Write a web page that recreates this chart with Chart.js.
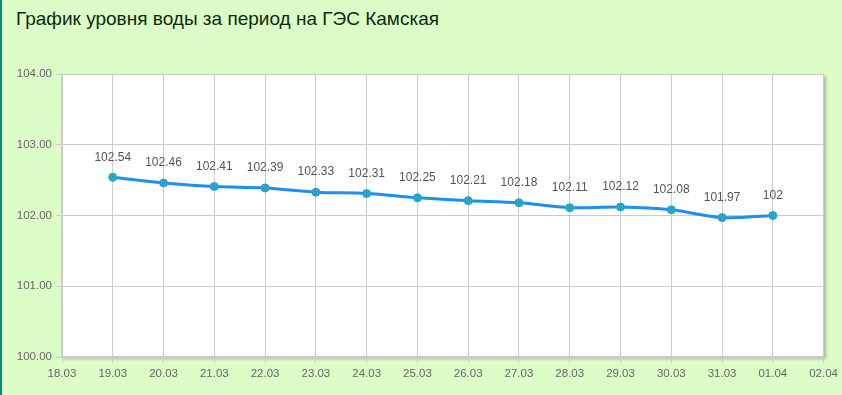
<!DOCTYPE html>
<html>
<head>
<meta charset="utf-8">
<script src="https://cdn.jsdelivr.net/npm/chart.js@4/dist/chart.umd.min.js"></script>
<style>
html,body{margin:0;padding:0;}
body{width:842px;height:395px;background:#dcfcc8;position:relative;overflow:hidden;}
#lb{position:absolute;left:0;top:0;width:2px;height:395px;background:#0b8a72;}
#title{position:absolute;left:16px;top:8px;font-family:"Liberation Sans",Arial,sans-serif;font-size:19px;color:#0d2a0d;white-space:nowrap;}
#c{position:absolute;left:0;top:0;}
</style>
</head>
<body>
<div id="lb"></div>
<div id="title">График уровня воды за период на ГЭС Камская</div>
<canvas id="c" width="842" height="395"></canvas>
<script>
const tickLabels = ["18.03","19.03","20.03","21.03","22.03","23.03","24.03","25.03","26.03","27.03","28.03","29.03","30.03","31.03","01.04","02.04"];
const dates = ["19.03","20.03","21.03","22.03","23.03","24.03","25.03","26.03","27.03","28.03","29.03","30.03","31.03","01.04"];
const levels = [102.54,102.46,102.41,102.39,102.33,102.31,102.25,102.21,102.18,102.11,102.12,102.08,101.97,102];
const dataLabels = ["102.54","102.46","102.41","102.39","102.33","102.31","102.25","102.21","102.18","102.11","102.12","102.08","101.97","102"];

const points = dates.map((d,i)=>({x: tickLabels.indexOf(d), y: levels[i]}));

const bgPlugin = {
  id:'bg',
  beforeDraw(chart){
    const {ctx, chartArea:a} = chart;
    ctx.save();
    ctx.shadowColor='rgba(0,0,0,0.25)';
    ctx.shadowBlur=3; ctx.shadowOffsetX=2; ctx.shadowOffsetY=2;
    ctx.fillStyle='#fff';
    ctx.fillRect(a.left,a.top,a.right-a.left,a.bottom-a.top);
    ctx.restore();
  },
  afterDatasetsDraw(chart){
    const {ctx} = chart;
    const meta = chart.getDatasetMeta(0);
    ctx.save();
    ctx.font='12px "Liberation Sans", Arial, sans-serif';
    ctx.fillStyle='#555';
    ctx.textAlign='center';
    ctx.textBaseline='middle';
    meta.data.forEach((p,i)=>{ ctx.fillText(dataLabels[i], p.x, p.y-20); });
    ctx.restore();
  }
};

new Chart(document.getElementById('c'),{
  type:'line',
  data:{datasets:[{
    data:points,
    borderColor:'#1e8ff0',
    borderWidth:3,
    tension:0.35,
    pointRadius:4,
    pointBackgroundColor:'#2aa3c8',
    pointBorderColor:'#2aa3c8',
    pointBorderWidth:1,
    fill:false
  }]},
  options:{
    responsive:false,
    animation:false,
    devicePixelRatio:1,
    layout:{padding:{left:0,right:18,top:74,bottom:0}},
    plugins:{legend:{display:false},tooltip:{enabled:false},title:{display:false}},
    scales:{
      x:{
        type:'linear',min:0,max:15,
        afterFit(s){s.height=38;},
        ticks:{stepSize:1,autoSkip:false,maxRotation:0,color:'#666',padding:4,
          font:{family:'"Liberation Sans", Arial, sans-serif',size:11.5},
          callback:(v)=>tickLabels[v]},
        grid:{color:'#cccccc',lineWidth:1,tickLength:6,tickColor:'#cccccc'},
        border:{color:'#cccccc',width:2}
      },
      y:{
        min:100,max:104,
        afterFit(s){s.width=62;},
        ticks:{stepSize:1,color:'#666',padding:4,
          font:{family:'"Liberation Sans", Arial, sans-serif',size:11.5},
          callback:(v)=>v.toFixed(2)},
        grid:{color:'#cccccc',lineWidth:1,tickLength:6,tickColor:'#cccccc'},
        border:{color:'#cccccc',width:2}
      }
    }
  },
  plugins:[bgPlugin]
});
</script>
</body>
</html>
